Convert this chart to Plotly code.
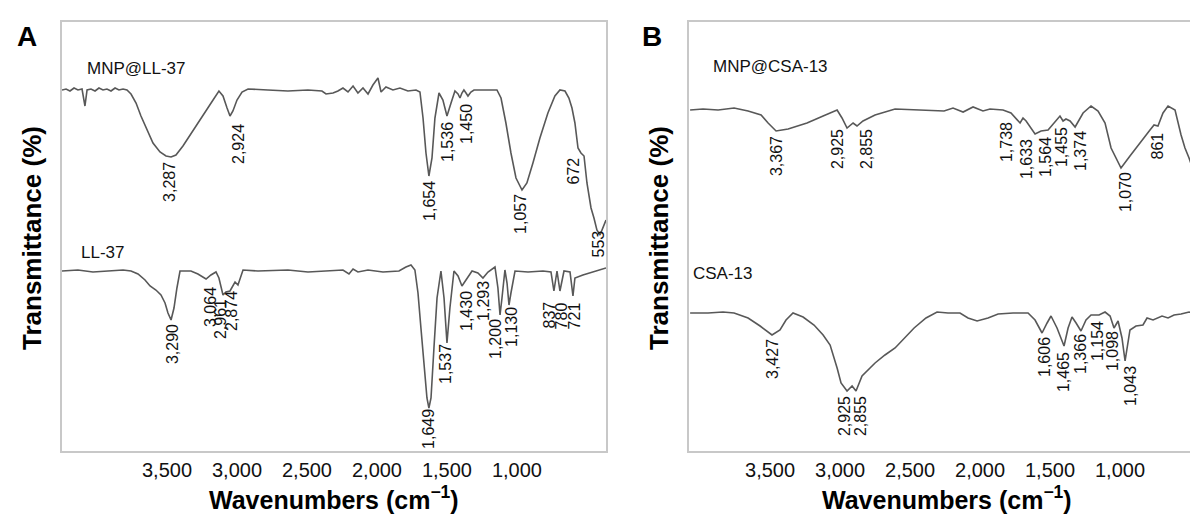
import plotly.graph_objects as go

W, H = 1198, 514
FONT = "Liberation Sans, Arial, sans-serif"
LINE = "#585858"

# ---------------- Panel A data ----------------
a_top_x = [4250, 4221, 4193, 4164, 4136, 4107, 4086, 4071, 4043, 4014, 3986, 3957, 3929, 3900, 3871,
           3843, 3814, 3786, 3757, 3721, 3686, 3650, 3600, 3550, 3507, 3471, 3436, 3386, 3336, 3279,
           3221, 3171, 3129, 3100, 3071, 3050, 3029, 3000, 2964, 2921, 2779, 2636, 2493, 2393, 2364,
           2314, 2279, 2243, 2207, 2171, 2136, 2100, 2064, 2029, 1993, 1971, 1936, 1886, 1836, 1779,
           1721, 1693, 1671, 1650, 1629, 1607, 1586, 1557, 1529, 1500, 1471, 1443, 1421, 1407, 1393,
           1379, 1364, 1350, 1329, 1307, 1207, 1143, 1114, 1079, 1043, 1007, 964, 929, 886, 836,
           779, 729, 693, 657, 629, 607, 586, 564, 543, 521, 500, 471, 450, 429, 407, 386, 364]
a_top_y = [361, 362, 360, 363, 361, 362, 345, 361, 362, 360, 363, 361, 362, 360, 363,
           361, 362, 361, 357, 348, 335, 323, 308, 299, 295, 294, 296, 305, 316, 328,
           340, 351, 360, 355, 343, 335, 340, 351, 359, 362, 361, 360, 361, 360, 357,
           358, 360, 363, 359, 365, 358, 363, 357, 366, 373, 359, 364, 361, 363, 360,
           361, 359, 333, 298, 275, 293, 333, 358, 351, 335, 348, 360, 357, 353, 358,
           361, 358, 355, 359, 361, 361, 361, 353, 328, 298, 273, 261, 268, 288, 313,
           338, 355, 361, 360, 353, 343, 328, 303, 298, 295, 268, 243, 233, 221, 216, 223, 231]

a_bot_x = [4250, 4136, 4029, 3921, 3814, 3757, 3707, 3657, 3621, 3579, 3543, 3514, 3493, 3471, 3450,
           3429, 3407, 3329, 3279, 3221, 3186, 3150, 3129, 3100, 3079, 3050, 3014, 2993, 2957,
           2850, 2636, 2493, 2350, 2243, 2200, 2171, 2136, 2064, 1957, 1843, 1793, 1757,
           1729, 1707, 1686, 1664, 1643, 1629, 1614, 1593, 1571, 1543, 1521, 1500, 1479, 1450, 1421,
           1393, 1364, 1321, 1279, 1243, 1207, 1157, 1136, 1121, 1107, 1086, 1071, 1057, 1043, 1014,
           921, 814, 757, 736, 714, 693, 664, 621, 600, 586, 529, 443, 364]
a_bot_y = [180, 181, 179, 180, 181, 180, 177, 171, 165, 161, 156, 148, 138, 131, 143,
           163, 180, 180, 177, 172, 176, 179, 173, 156, 159, 160, 169, 166, 181,
           180, 181, 179, 180, 181, 177, 182, 179, 181, 179, 180, 184, 186,
           181, 158, 123, 83, 53, 43, 53, 103, 153, 180, 153, 108, 143, 180, 175,
           165, 171, 180, 178, 173, 179, 184, 163, 136, 153, 181, 168, 146, 158, 180,
           179, 180, 179, 160, 180, 160, 180, 179, 155, 173, 176, 180, 183]

a_top_lbl = ["3,287", "2,924", "1,654", "1,536", "1,450", "1,057", "672", "553"]
a_top_lbl_x = [3486, 2993, 1629, 1500, 1364, 979, 593, 421]
a_top_lbl_y = [290, 328, 271, 330, 348, 258, 295, 221]

a_bot_lbl = ["3,290", "3,064", "2,961", "2,874", "1,649", "1,537", "1,430", "1,293", "1,200",
             "1,130", "837", "780", "721"]
a_bot_lbl_x = [3464, 3193, 3121, 3043, 1636, 1514, 1364, 1243, 1157, 1043, 771, 679, 586]
a_bot_lbl_y = [128, 165, 153, 161, 43, 108, 161, 171, 133, 145, 150, 150, 150]

# ---------------- Panel B data ----------------
b_top_x = [4071, 3979, 3871, 3757, 3657, 3564, 3514, 3457, 3371, 3236, 3121, 3021, 2986, 2950, 2907,
           2879, 2836, 2750, 2607, 2443, 2257, 2193, 2121, 2050, 1979, 1929, 1836, 1779, 1714, 1693,
           1671, 1607, 1564, 1514, 1457, 1429, 1407, 1386, 1357, 1321, 1264, 1207, 1157, 1107, 1064,
           993, 929, 871, 786, 757, 729, 693, 657, 607, 564, 536, 507, 471, 443, 414, 393]
b_top_y = [341, 342, 341, 343, 340, 336, 328, 320, 322, 328, 335, 341, 333, 323, 328,
           325, 330, 336, 342, 341, 340, 343, 339, 344, 340, 342, 341, 338, 328, 333,
           330, 317, 320, 321, 331, 335, 330, 332, 330, 324, 338, 345, 340, 328, 303,
           283, 295, 306, 321, 326, 325, 338, 345, 341, 316, 303, 293, 278, 268, 271, 273]

b_bot_x = [4071, 3943, 3836, 3757, 3657, 3571, 3486, 3429, 3386, 3336, 3264, 3186, 3121, 3071, 3021,
           2993, 2950, 2914, 2886, 2843, 2750, 2679, 2607, 2536, 2471, 2386, 2307, 2229, 2143, 2086,
           2021, 1943, 1871, 1764, 1657, 1607, 1557, 1521, 1493, 1450, 1400, 1371, 1343, 1314, 1279,
           1243, 1207, 1150, 1107, 1071, 1043, 1014, 986, 964, 943, 929, 886, 836, 807, 764,
           700, 657, 614, 564, 507, 457, 400]
b_bot_y = [138, 138, 139, 138, 133, 125, 116, 121, 131, 138, 134, 126, 116, 106, 83,
           68, 60, 65, 60, 75, 88, 96, 103, 113, 123, 133, 139, 138, 138, 133,
           130, 133, 137, 138, 138, 131, 118, 128, 135, 123, 105, 123, 134, 128, 120,
           131, 136, 136, 139, 135, 123, 130, 113, 90, 108, 121, 125, 126, 133, 131,
           135, 133, 136, 137, 139, 137, 136]

b_top_lbl = ["3,367", "2,925", "2,855", "1,738", "1,633", "1,564", "1,455", "1,374", "1,070", "861", "549"]
b_top_lbl_x = [3457, 3021, 2814, 1814, 1671, 1536, 1421, 1286, 964, 729, 414]
b_top_lbl_y = [316, 323, 323, 330, 313, 315, 325, 321, 280, 320, 261]

b_bot_lbl = ["3,427", "2,925", "2,855", "1,606", "1,465", "1,366", "1,154", "1,098", "1,043"]
b_bot_lbl_x = [3486, 2971, 2857, 1543, 1407, 1286, 1164, 1057, 929]
b_bot_lbl_y = [113, 56, 56, 115, 100, 118, 131, 121, 86]

tick_vals = [3500, 3000, 2500, 2000, 1500, 1000]
tick_text = ["3,500", "3,000", "2,500", "2,000", "1,500", "1,000"]

series_names = ["MNP@LL-37", "LL-37", "MNP@CSA-13", "CSA-13"]
name_x = [4086, 4129, 3921, 4064]
name_y = [383, 199, 385, 178]

# ---------------- Figure ----------------
fig = go.Figure()
line = dict(color=LINE, width=1.6)
fig.add_trace(go.Scatter(x=a_top_x, y=a_top_y, mode="lines", line=line, xaxis="x", yaxis="y"))
fig.add_trace(go.Scatter(x=a_bot_x, y=a_bot_y, mode="lines", line=line, xaxis="x", yaxis="y"))
fig.add_trace(go.Scatter(x=b_top_x, y=b_top_y, mode="lines", line=line, xaxis="x2", yaxis="y2"))
fig.add_trace(go.Scatter(x=b_bot_x, y=b_bot_y, mode="lines", line=line, xaxis="x2", yaxis="y2"))

ann = []
def peak_labels(texts, xs, ys, xr, yr):
    for t, x, y in zip(texts, xs, ys):
        ann.append(dict(text=t, x=x, y=y, xref=xr, yref=yr, showarrow=False,
                        textangle=-90, xanchor="center", yanchor="top",
                        font=dict(family=FONT, size=16, color="#111"), borderpad=0))

peak_labels(a_top_lbl, a_top_lbl_x, a_top_lbl_y, "x", "y")
peak_labels(a_bot_lbl, a_bot_lbl_x, a_bot_lbl_y, "x", "y")
peak_labels(b_top_lbl, b_top_lbl_x, b_top_lbl_y, "x2", "y2")
peak_labels(b_bot_lbl, b_bot_lbl_x, b_bot_lbl_y, "x2", "y2")

for i, (nm, x, y) in enumerate(zip(series_names, name_x, name_y)):
    ann.append(dict(text=nm, x=x, y=y, xref="x" if i < 2 else "x2", yref="y" if i < 2 else "y2",
                    showarrow=False, xanchor="left", yanchor="middle",
                    font=dict(family=FONT, size=17, color="#111")))

def px(xp, yp):
    return xp / W, 1 - yp / H

for letter, (xp, yp) in [("A", (19, 28)), ("B", (644, 28))]:
    x, y = px(xp, yp)
    ann.append(dict(text="<b>%s</b>" % letter, x=x, y=y, xref="paper", yref="paper", showarrow=False,
                    xanchor="center", yanchor="middle", font=dict(family=FONT, size=28, color="black")))

for xp in [24, 651]:
    x, y = px(xp, 230)
    ann.append(dict(text="<b>Transmittance (%)</b>", x=x, y=y, xref="paper", yref="paper",
                    showarrow=False, textangle=-90, xanchor="center", yanchor="middle",
                    font=dict(family=FONT, size=26, color="black")))

for xp in [326, 939]:
    x, y = px(xp, 507)
    ann.append(dict(text="<b>Wavenumbers (cm<sup>−1</sup>)</b>", x=x, y=y, xref="paper", yref="paper",
                    showarrow=False, xanchor="center", yanchor="bottom", borderpad=0,
                    font=dict(family=FONT, size=25, color="black")))

frame = dict(showline=True, linecolor="#c8c8c8", linewidth=1.5,
             showgrid=False, zeroline=False)
xcommon = dict(tickvals=tick_vals, ticktext=tick_text, ticks="", mirror=True,
               tickfont=dict(family=FONT, size=20, color="#111"), **frame)
ycommon = dict(showticklabels=False, ticks="", range=[0, 429], **frame)

fig.update_layout(
    width=W, height=H,
    margin=dict(l=0, r=0, t=0, b=0),
    paper_bgcolor="white", plot_bgcolor="white",
    showlegend=False,
    xaxis=dict(domain=[54 / W, 598 / W], range=[4250, 364], anchor="y", **xcommon),
    yaxis=dict(domain=[1 - 443 / H, 1 - 14 / H], anchor="x", mirror=True, **ycommon),
    xaxis2=dict(domain=[681 / W, 1197 / W], range=[4079, 393], anchor="y2", **xcommon),
    yaxis2=dict(domain=[1 - 443 / H, 1 - 14 / H], anchor="x2", mirror=False, **ycommon),
    annotations=ann,
)

fig.write_html("out.html")
